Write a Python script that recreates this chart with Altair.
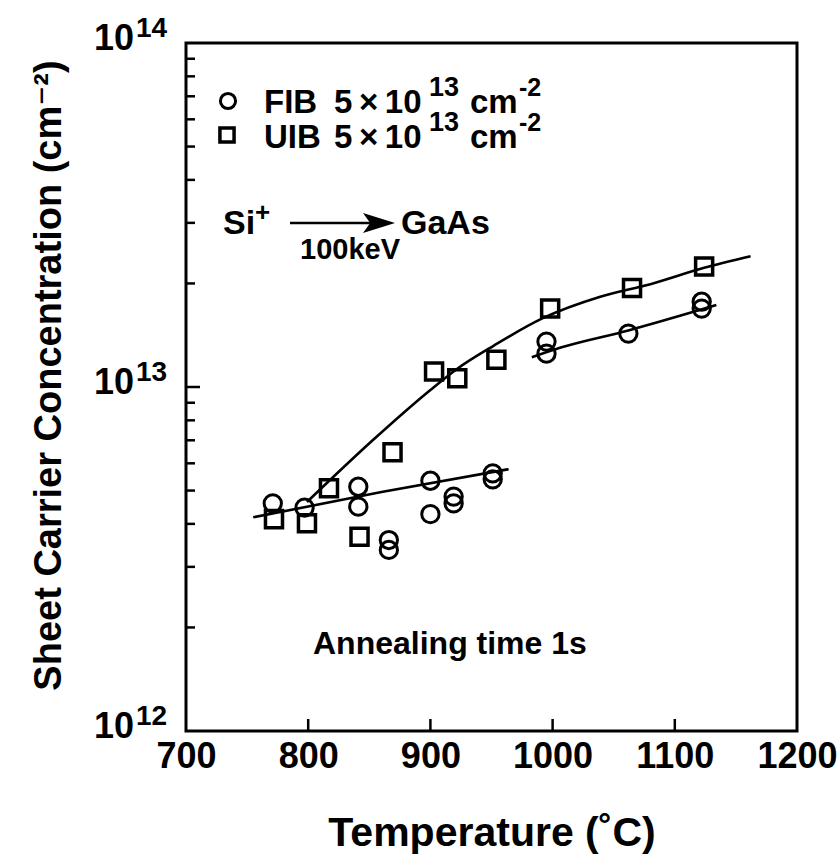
import altair as alt
import pandas as pd

# ---- data ----
uib_t = [772, 799, 817, 842, 869, 903, 922, 954, 998, 1065, 1124]
uib_c = [4.13e12, 4.02e12, 5.08e12, 3.67e12, 6.46e12, 1.11e13, 1.06e13, 1.20e13, 1.69e13, 1.94e13, 2.24e13]

fib_t = [771, 797, 841, 841, 866, 866, 900, 900, 919, 919, 951, 951, 995, 995, 1062, 1122, 1122]
fib_c = [4.59e12, 4.46e12, 5.13e12, 4.49e12, 3.59e12, 3.36e12, 5.34e12, 4.27e12, 4.80e12, 4.59e12,
         5.61e12, 5.39e12, 1.355e13, 1.25e13, 1.43e13, 1.77e13, 1.69e13]

fit_uib_t = [799, 853, 900, 922, 952, 992, 1039, 1080, 1124, 1162]
fit_uib_c = [4.63e12, 7.01e12, 9.8e12, 1.13e13, 1.32e13, 1.585e13, 1.83e13, 1.99e13, 2.22e13, 2.40e13]

fit_fib_low_t = [755, 860, 964]
fit_fib_low_c = [4.18e12, 4.95e12, 5.77e12]

fit_fib_high_t = [983, 1006, 1062, 1134]
fit_fib_high_c = [1.22e13, 1.30e13, 1.46e13, 1.73e13]

x_label_values = [700, 800, 900, 1000, 1100, 1200]
x_tick_values = [800, 900, 1000, 1100]
y_decades = [1e12, 1e13, 1e14]
y_exponents = ["12", "13", "14"]
y_minor = [2e12, 3e12, 4e12, 5e12, 6e12, 7e12, 8e12, 9e12,
           2e13, 3e13, 4e13, 5e13, 6e13, 7e13, 8e13, 9e13]
y_major_inner = [1e13]

FONT = "Liberation Sans, Arial, Helvetica, DejaVu Sans, sans-serif"
W, H = 611, 688

xscale = alt.Scale(domain=[700, 1200], nice=False, zero=False)
yscale = alt.Scale(type="log", domain=[1e12, 1e14], nice=False)

fits = pd.concat([
    pd.DataFrame({"t": fit_uib_t, "c": fit_uib_c, "s": "uib"}),
    pd.DataFrame({"t": fit_fib_low_t, "c": fit_fib_low_c, "s": "fib_low"}),
    pd.DataFrame({"t": fit_fib_high_t, "c": fit_fib_high_c, "s": "fib_high"}),
])

base_lines = alt.Chart(fits).mark_line(color="black", strokeWidth=2.6, interpolate="monotone").encode(
    x=alt.X("t:Q", scale=xscale, axis=alt.Axis(
        values=x_label_values, format="d", ticks=False, domain=False, grid=False, labelFlush=False,
        labelOverlap=False, labelFont=FONT, labelFontSize=36, labelFontWeight="bold",
        labelColor="black", labelPadding=8,
        title="Temperature (˚C)", titleFont=FONT, titleFontSize=41, titleFontWeight="bold",
        titleColor="black", titleX=W / 2, titleY=114, titleBaseline="alphabetic")),
    y=alt.Y("c:Q", scale=yscale, axis=alt.Axis(
        labels=False, ticks=False, domain=False, grid=False,
        title="Sheet Carrier Concentration (cm⁻²)", titleFont=FONT, titleFontSize=38,
        titleFontWeight="bold", titleColor="black", titleX=-126, titleY=332,
        titleAngle=270, titleBaseline="alphabetic", titleAlign="center")),
    detail="s:N",
)

circles = alt.Chart(pd.DataFrame({"t": fib_t, "c": fib_c})).mark_point(
    shape="circle", filled=False, color="black", strokeWidth=3, size=300, opacity=1
).encode(x="t:Q", y="c:Q")

squares = alt.Chart(pd.DataFrame({"t": uib_t, "c": uib_c})).mark_point(
    shape="square", filled=False, color="black", strokeWidth=3.5, size=290, opacity=1
).encode(x="t:Q", y="c:Q")

yminor = alt.Chart(pd.DataFrame({"c": y_minor})).mark_rule(color="black", strokeWidth=2.5).encode(
    y="c:Q", x=alt.value(0), x2=alt.value(9))
ymajor = alt.Chart(pd.DataFrame({"c": y_major_inner})).mark_rule(color="black", strokeWidth=2.5).encode(
    y="c:Q", x=alt.value(0), x2=alt.value(14))
xticks = alt.Chart(pd.DataFrame({"t": x_tick_values})).mark_rule(color="black", strokeWidth=2.5).encode(
    x="t:Q", y=alt.value(H), y2=alt.value(H - 12))

ylab_df = pd.DataFrame({"c": y_decades, "e": y_exponents})
ylab_ten = alt.Chart(ylab_df).mark_text(
    text="10", font=FONT, fontSize=36, fontWeight="bold", align="right", baseline="alphabetic",
    dy=7, color="black").encode(y="c:Q", x=alt.value(-52))
ylab_exp = alt.Chart(ylab_df).mark_text(
    font=FONT, fontSize=28, fontWeight="bold", align="left", baseline="alphabetic",
    dy=-6, color="black").encode(y="c:Q", x=alt.value(-50), text="e:N")

one = pd.DataFrame({"k": [0]})


def txt(s, x, y, size, align="left"):
    return alt.Chart(one).mark_text(
        text=s, font=FONT, fontSize=size, fontWeight="bold", align=align,
        baseline="alphabetic", color="black").encode(x=alt.value(x), y=alt.value(y))


def sym(shape, x, y, size, sw, filled=False):
    return alt.Chart(one).mark_point(
        shape=shape, filled=filled, color="black", strokeWidth=sw, size=size, opacity=1
    ).encode(x=alt.value(x), y=alt.value(y))


ann = [
    sym("circle", 42, 58, 230, 3),
    sym("square", 41, 92, 200, 3.5),
    txt("FIB", 78, 70, 33), txt("5\u2009×\u200910", 148, 70, 33), txt("13", 243, 53, 27),
    txt("cm", 284, 70, 33), txt("-2", 333, 53, 25),
    txt("UIB", 78, 105, 33), txt("5\u2009×\u200910", 148, 105, 33), txt("13", 243, 88, 27),
    txt("cm", 284, 105, 33), txt("-2", 333, 88, 25),
    txt("Si", 37, 191, 34), txt("+", 69, 178, 26),
    alt.Chart(one).mark_rule(color="black", strokeWidth=2.5).encode(
        x=alt.value(104), x2=alt.value(195), y=alt.value(180)),
    sym("M-1,-0.62 L1,0 L-1,0.62 L-0.55,0 Z", 193, 180, 1024, 0, filled=True),
    txt("GaAs", 215, 191, 34),
    txt("100keV", 114, 216, 29),
    txt("Annealing time 1s", 127, 611, 32),
]

chart = alt.layer(base_lines, circles, squares, yminor, ymajor, xticks, ylab_ten, ylab_exp, *ann).properties(
    width=W, height=H,
    autosize=alt.AutoSizeParams(type="none"),
    padding={"left": 186, "top": 43, "right": 41, "bottom": 126},
    background="white",
).configure_view(stroke="black", strokeWidth=3)

chart.save("out.html", embed_options={"renderer": "svg", "actions": False})
